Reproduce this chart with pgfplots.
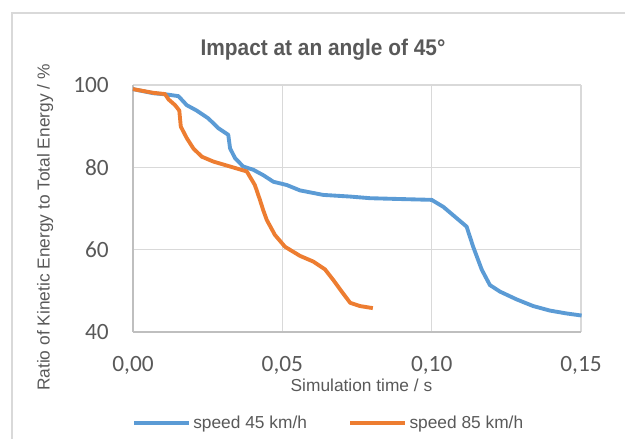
\documentclass[border=0pt]{standalone}
\usepackage{fontspec}
\setmainfont{Liberation Sans}
\newfontfamily\tickfont{Carlito}
\newfontfamily\titlefont[FakeStretch=0.92]{Liberation Sans}
\usepackage{pgfplots}
\pgfplotsset{compat=1.18}
\definecolor{s45}{HTML}{5B9BD5}
\definecolor{s85}{HTML}{ED7D31}
\definecolor{txt}{HTML}{595959}
\definecolor{gridc}{HTML}{D9D9D9}
\definecolor{axc}{HTML}{BFBFBF}
\begin{document}
\begin{tikzpicture}
\useasboundingbox (-99.75pt,-80.25pt) rectangle (369pt,249pt);
\draw[gridc, line width=0.9pt] (-90.75pt,-80.25pt) -- (-90.75pt,239.25pt) -- (369pt,239.25pt);
\begin{axis}[
    width=336pt, height=185.25pt, scale only axis,
    xmin=0, xmax=0.15, ymin=40, ymax=100,
    xtick={0,0.05,0.10,0.15}, ytick={40,60,80,100},
    axis x line*=bottom, axis y line*=left,
    axis line style={axc, line width=1.2pt, -},
    grid=major, grid style={gridc, line width=0.9pt},
    major tick length=0pt,
    /pgf/number format/.cd, fixed, fixed zerofill, precision=2, use comma, assume math mode=true,
    /pgfplots/.cd,
    yticklabel style={/pgf/number format/precision=0, /pgf/number format/fixed zerofill=false,
        font=\tickfont\fontsize{17.5}{17.5}\selectfont, text=txt, inner sep=0pt, anchor=east, xshift=-18pt},
    xticklabel style={font=\tickfont\fontsize{17.5}{17.5}\selectfont, text=txt, inner sep=0pt, anchor=north, yshift=-18pt},
    scaled x ticks=false,
    xlabel={Simulation time / s},
    ylabel={Ratio of Kinetic Energy to Total Energy / \%},
    xlabel style={font=\fontsize{13}{13}\selectfont, text=txt, at={(axis description cs:0.51,-0.239)}, anchor=base, inner sep=0pt},
    ylabel style={font=\fontsize{13}{13}\selectfont, text=txt, at={(axis description cs:-0.196,0.423)}, anchor=center, inner sep=0pt},
    legend columns=2,
    legend style={draw=none, fill=none, at={(axis description cs:0.4375,-0.37)}, anchor=center,
        font=\fontsize{13}{13}\selectfont, text=txt,
        /tikz/every even column/.append style={column sep=29pt}},
    legend image code/.code={\draw[#1] (0pt,0pt) -- (41pt,0pt);},
    clip=false,
]
\addplot[s45, line width=2.9pt, line join=round] coordinates {
    (0,99.0) (0.0068,98.0) (0.0113,97.7) (0.0152,97.3) (0.018,95.1) (0.0213,93.8)
    (0.0252,91.9) (0.0286,89.5) (0.0319,87.9) (0.0325,84.6) (0.0342,82.2) (0.0369,80.2)
    (0.0403,79.4) (0.0436,78.1) (0.047,76.5) (0.0515,75.7) (0.0559,74.4) (0.0637,73.3)
    (0.0727,72.9) (0.0794,72.5) (0.0894,72.3) (0.1000,72.1) (0.1039,70.4) (0.1078,68.0)
    (0.1117,65.6) (0.1139,60.7) (0.1168,55.1) (0.1195,51.4) (0.1229,49.8) (0.1285,47.9)
    (0.1340,46.3) (0.1396,45.2) (0.1452,44.5) (0.1502,44.0)
};
\addlegendentry{speed 45 km/h}
\addplot[s85, line width=2.9pt, line join=round] coordinates {
    (0,99.0) (0.0068,98.1) (0.0107,97.8) (0.0119,96.5) (0.0141,95.1) (0.0155,93.8)
    (0.016,89.9) (0.018,87.1) (0.0202,84.6) (0.023,82.6) (0.0269,81.4) (0.0325,80.2)
    (0.0381,79.0) (0.0408,75.7) (0.0425,72.1) (0.0436,69.6) (0.0448,67.2) (0.0475,63.6)
    (0.0509,60.7) (0.0559,58.5) (0.0604,57.1) (0.0643,55.2) (0.0671,52.6) (0.0699,49.8)
    (0.0727,47.1) (0.076,46.3) (0.0803,45.8)
};
\addlegendentry{speed 85 km/h}
\end{axis}
\node[anchor=base, inner sep=0pt, text=txt, font=\titlefont\bfseries\fontsize{17}{17}\selectfont] at (142.5pt,207pt) {Impact at an angle of 45°};
\end{tikzpicture}
\end{document}
